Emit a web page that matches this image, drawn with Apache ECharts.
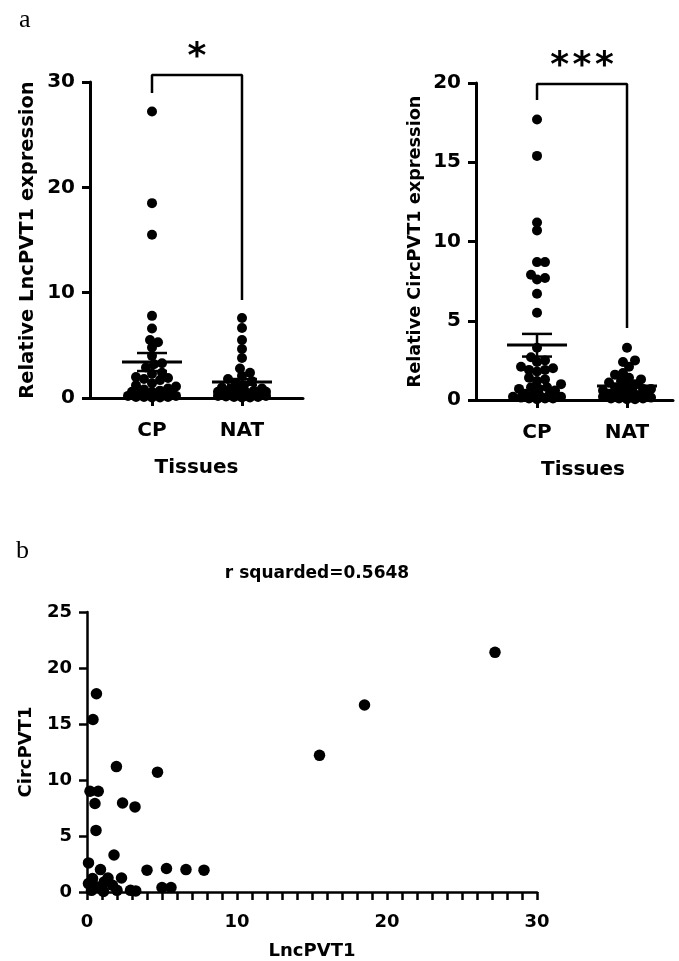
<!DOCTYPE html>
<html>
<head>
<meta charset="utf-8">
<script src="https://cdn.jsdelivr.net/npm/echarts@6/dist/echarts.min.js"></script>
<style>
html,body{margin:0;padding:0;background:#fff}
#chart{width:679px;height:961px}
</style>
</head>
<body>
<div id="chart"></div>
<script>
// groups on the x axis of panel a
const tissues = ['CP', 'NAT'];

// panel a (left) - relative LncPVT1 expression
const lncCP = [27.2, 18.5, 15.5, 7.8, 6.6, 5.5, 5.3, 4.8, 4.0, 3.3, 3.2, 2.9, 2.4, 2.3, 2.0, 1.9, 1.8, 1.7, 1.4,
  1.2, 1.1, 0.9, 0.8, 0.7, 0.6, 0.6, 0.5, 0.4, 0.4, 0.3, 0.3, 0.2, 0.2, 0.1, 0.1, 0.1, 0.05, 0.05];
const lncNAT = [7.6, 6.65, 5.5, 4.65, 3.8, 2.8, 2.4, 2.1, 1.8, 1.6, 1.4, 1.2, 1.0, 0.9, 0.8, 0.7, 0.7, 0.6, 0.6,
  0.55, 0.5, 0.5, 0.45, 0.4, 0.4, 0.35, 0.3, 0.3, 0.3, 0.25, 0.2, 0.2, 0.2, 0.15, 0.1, 0.1, 0.05, 0.05];
// mean, lower SEM, upper SEM (CP, NAT)
const lncMean = [3.42, 1.52];
const lncLow = [2.56, 1.25];
const lncHigh = [4.27, 1.8];

// panel a (right) - relative CircPVT1 expression
const circCP = [17.7, 15.4, 11.2, 10.7, 8.7, 8.7, 7.9, 7.7, 7.6, 6.7, 5.5, 3.3, 2.7, 2.5, 2.4, 2.1, 2.0, 1.9, 1.9, 1.8,
  1.4, 1.3, 1.2, 1.0, 0.8, 0.8, 0.7, 0.7, 0.6, 0.4, 0.3, 0.3, 0.2, 0.2, 0.2, 0.15, 0.1, 0.1, 0.1, 0.05];
const circNAT = [3.3, 2.5, 2.4, 2.1, 1.7, 1.6, 1.4, 1.3, 1.2, 1.1, 1.0, 0.9, 0.8, 0.7, 0.7, 0.6, 0.5, 0.5,
  0.4, 0.4, 0.3, 0.3, 0.3, 0.2, 0.2, 0.2, 0.15, 0.1, 0.1, 0.1, 0.05, 0.05];
const circMean = [3.47, 0.88];
const circLow = [2.74, 0.78];
const circHigh = [4.17, 0.98];

// significance brackets: [left leg end, top, right leg end]
const lncBracket = [28.96, 30.67, 9.3];
const circBracket = [18.93, 19.94, 4.54];
const lncStars = '*';
const circStars = '*\u200a*\u200a*';

// panel b - LncPVT1 (x) vs CircPVT1 (y)
const scatterLnc = [27.2, 18.5, 15.5, 0.63, 0.4, 1.96, 4.7, 0.2, 0.75, 0.53, 2.37, 3.2, 0.6, 0.1, 1.8, 0.9, 4.0,
  5.3, 6.6, 7.8, 2.3, 1.4, 0.37, 0.1, 1.15, 1.7, 2.9, 3.25, 5.0, 5.6, 0.3, 1.1, 0.7, 2.0];
const scatterCirc = [21.4, 16.7, 12.2, 17.7, 15.4, 11.2, 10.7, 9.0, 9.0, 7.9, 7.95, 7.6, 5.5, 2.6, 3.3, 2.0, 1.95,
  2.1, 2.0, 1.95, 1.25, 1.25, 1.2, 0.75, 0.9, 0.6, 0.15, 0.1, 0.4, 0.4, 0.15, 0.05, 0.45, 0.15];
const rSquared = 'r squarded=0.5648';
// panel b x axis: a tick every unit, a label every ten
const lncTickStep = 1;
const lncLabelStep = 10;

const FONT = 'DejaVu Sans';
const ink = '#000';

// spread the dots of one column sideways (bounded beeswarm, dots may overlap when crowded)
function swarm(values, cat, pxPerCat, pxPerVal, dot, half) {
  const cands = [];
  for (let o = 0; o <= half; o += 2) { cands.push(o); if (o) cands.push(-o); }
  const placed = [];
  const out = [];
  values.slice().sort((a, b) => a - b).forEach(v => {
    const y = v * pxPerVal;
    let best = 0, bestD = -1;
    for (const off of cands) {
      const d = placed.reduce((m, p) => Math.min(m, Math.hypot(p[0] - off, p[1] - y)), Infinity);
      if (d >= dot * 0.75) { best = off; break; }
      if (d > bestD) { bestD = d; best = off; }
    }
    placed.push([best, y]);
    out.push([cat + best / pxPerCat, v]);
  });
  return out;
}

function meanSem(params, api) {
  const x = api.value(0);
  const m = api.coord([x, api.value(1)]);
  const lo = api.coord([x, api.value(2)]);
  const hi = api.coord([x, api.value(3)]);
  const thin = {stroke: ink, lineWidth: 2.5};
  return {
    type: 'group',
    children: [
      {type: 'line', shape: {x1: m[0] - 30, y1: m[1], x2: m[0] + 30, y2: m[1]}, style: {stroke: ink, lineWidth: 3}},
      {type: 'line', shape: {x1: lo[0], y1: lo[1], x2: hi[0], y2: hi[1]}, style: thin},
      {type: 'line', shape: {x1: lo[0] - 15, y1: lo[1], x2: lo[0] + 15, y2: lo[1]}, style: thin},
      {type: 'line', shape: {x1: hi[0] - 15, y1: hi[1], x2: hi[0] + 15, y2: hi[1]}, style: thin}
    ]
  };
}

const txt = (size) => ({color: ink, fontFamily: FONT, fontWeight: 'bold', fontSize: size});

function catAxis(idx, min, max, namePad) {
  return {
    gridIndex: idx, type: 'value', min: min, max: max,
    name: 'Tissues', nameLocation: 'middle', nameGap: 60,
    nameTextStyle: Object.assign(txt(20), {padding: namePad}),
    axisLine: {lineStyle: {color: ink, width: 3}},
    axisTick: {customValues: [1, 2], length: 8, lineStyle: {color: ink, width: 3}},
    axisLabel: Object.assign(txt(20), {customValues: [1, 2], margin: 23, formatter: v => tissues[Math.round(v) - 1]}),
    splitLine: {show: false}
  };
}

function valAxis(idx, max, interval, name, nameSize, labelSize, lw) {
  return {
    gridIndex: idx, type: 'value', min: 0, max: max, interval: interval,
    name: name, nameLocation: 'middle', nameGap: 52, nameRotate: 90,
    nameTextStyle: txt(nameSize),
    axisLine: {show: true, lineStyle: {color: ink, width: lw}},
    axisTick: {show: true, length: 8, lineStyle: {color: ink, width: lw}},
    axisLabel: Object.assign(txt(labelSize), {margin: 15}),
    splitLine: {show: false}
  };
}

const pxLnc = 316 / 30;
const pxCirc = 317 / 20;
const dotStyle = {color: ink, opacity: 1};
const starLabel = {show: true, position: 'inside', offset: [0, 6], color: ink, fontFamily: FONT, fontWeight: 'bold', fontSize: 36};

const option = {
  backgroundColor: '#fff',
  animation: false,
  title: [
    {text: 'a', left: 14, top: 2, textStyle: {color: ink, fontFamily: 'Liberation Serif', fontSize: 26, fontWeight: 'normal'}},
    {text: 'b', left: 11, top: 533, textStyle: {color: ink, fontFamily: 'Liberation Serif', fontSize: 26, fontWeight: 'normal'}},
    {text: rSquared, left: 312, top: 560, textAlign: 'center', textStyle: txt(17)}
  ],
  grid: [
    {left: 90, top: 82, width: 213, height: 316},
    {left: 476, top: 83, width: 197, height: 317},
    {left: 87, top: 612, width: 450, height: 281}
  ],
  xAxis: [
    catAxis(0, 0.311, 2.678, [0, 0, 0, 0]),
    catAxis(1, 0.322, 2.511, [0, 0, 0, 17]),
    {
      gridIndex: 2, type: 'value', min: 0, max: 30, interval: lncTickStep,
      name: 'LncPVT1', nameLocation: 'middle', nameGap: 50, nameTextStyle: txt(18),
      axisLine: {lineStyle: {color: ink, width: 2.5}},
      axisTick: {show: true, interval: 0, length: 8, lineStyle: {color: ink, width: 2.5}},
      axisLabel: Object.assign(txt(18), {margin: 21, interval: 0, showMinLabel: true, showMaxLabel: true,
        formatter: v => (Math.round(v) % lncLabelStep === 0 ? String(Math.round(v)) : '')}),
      splitLine: {show: false}
    }
  ],
  yAxis: [
    valAxis(0, 30, 10, 'Relative LncPVT1 expression', 19.5, 20, 3),
    valAxis(1, 20, 5, 'Relative CircPVT1 expression', 17.7, 20, 3),
    valAxis(2, 25, 5, 'CircPVT1', 18, 18, 2.5)
  ],
  series: [
    // panel a left
    {type: 'scatter', xAxisIndex: 0, yAxisIndex: 0, symbolSize: 10, itemStyle: dotStyle,
      data: swarm(lncCP, 1, 90, pxLnc, 10, 25).concat(swarm(lncNAT, 2, 90, pxLnc, 10, 25))},
    {type: 'custom', xAxisIndex: 0, yAxisIndex: 0, renderItem: meanSem, z: 5,
      data: tissues.map((t, i) => [i + 1, lncMean[i], lncLow[i], lncHigh[i]])},
    {type: 'line', xAxisIndex: 0, yAxisIndex: 0, symbol: 'none', clip: false, silent: true,
      lineStyle: {color: ink, width: 2.5},
      data: [[1, lncBracket[0]], [1, lncBracket[1]], [2, lncBracket[1]], [2, lncBracket[2]]]},
    {type: 'scatter', xAxisIndex: 0, yAxisIndex: 0, symbolSize: 0, clip: false, silent: true, itemStyle: dotStyle,
      label: Object.assign({formatter: lncStars}, starLabel), data: [[1.5, 32.85]]},
    // panel a right
    {type: 'scatter', xAxisIndex: 1, yAxisIndex: 1, symbolSize: 10, itemStyle: dotStyle,
      data: swarm(circCP, 1, 90, pxCirc, 10, 25).concat(swarm(circNAT, 2, 90, pxCirc, 10, 25))},
    {type: 'custom', xAxisIndex: 1, yAxisIndex: 1, renderItem: meanSem, z: 5,
      data: tissues.map((t, i) => [i + 1, circMean[i], circLow[i], circHigh[i]])},
    {type: 'line', xAxisIndex: 1, yAxisIndex: 1, symbol: 'none', clip: false, silent: true,
      lineStyle: {color: ink, width: 2.5},
      data: [[1, circBracket[0]], [1, circBracket[1]], [2, circBracket[1]], [2, circBracket[2]]]},
    {type: 'scatter', xAxisIndex: 1, yAxisIndex: 1, symbolSize: 0, clip: false, silent: true, itemStyle: dotStyle,
      label: Object.assign({formatter: circStars}, starLabel), data: [[1.5, 21.42]]},
    // panel b
    {type: 'scatter', xAxisIndex: 2, yAxisIndex: 2, symbolSize: 11.5, itemStyle: dotStyle, clip: false, z: 3,
      data: scatterLnc.map((x, i) => [x, scatterCirc[i]])}
  ]
};

const chart = echarts.init(document.getElementById('chart'), null, {renderer: 'canvas'});
chart.setOption(option);
</script>
</body>
</html>
